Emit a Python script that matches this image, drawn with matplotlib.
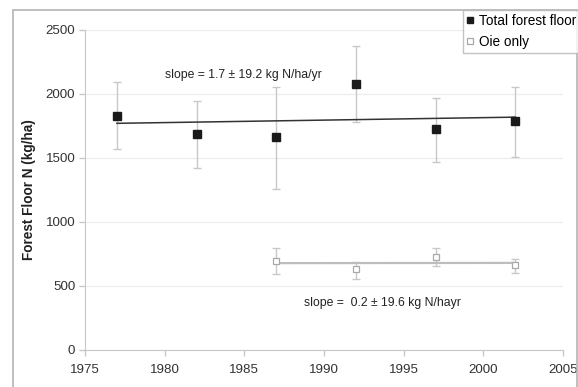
import numpy as np
import matplotlib
matplotlib.use("Agg")
import matplotlib.pyplot as plt
from matplotlib.patches import Rectangle

plt.rcParams['font.family'] = ['Liberation Sans', 'DejaVu Sans']

# data
years_total = [1977, 1982, 1987, 1992, 1997, 2002]
total_n = [1830, 1685, 1661, 2078, 1727, 1789]
total_hi = [2096, 1945, 2052, 2377, 1971, 2052]
total_lo = [1570, 1420, 1258, 1779, 1466, 1510]

years_oie = [1987, 1992, 1997, 2002]
oie_n = [695, 630, 729, 664]
oie_hi = [794, 688, 794, 711]
oie_lo = [594, 555, 656, 604]

x_ticks = [1975, 1980, 1985, 1990, 1995, 2000, 2005]
y_ticks = [0, 500, 1000, 1500, 2000, 2500]

grey = '#c8c8c8'

fig = plt.figure(figsize=(5.78, 3.87), dpi=100)
# outer frame like the spreadsheet chart area
fig.patches.append(Rectangle((13 / 578, -0.01), 564 / 578, 1 - 10 / 387 + 0.01,
                             transform=fig.transFigure, fill=False,
                             edgecolor='#b4b4b4', lw=1.2))

ax = fig.add_axes([85 / 578, 37 / 387, 478 / 578, 320 / 387])

# error bars
yt = np.array(total_n)
ax.errorbar(years_total, total_n,
            yerr=[yt - np.array(total_lo), np.array(total_hi) - yt],
            fmt='none', ecolor=grey, elinewidth=1, capsize=3, capthick=1, zorder=2)
yo = np.array(oie_n)
ax.errorbar(years_oie, oie_n,
            yerr=[yo - np.array(oie_lo), np.array(oie_hi) - yo],
            fmt='none', ecolor=grey, elinewidth=1, capsize=3, capthick=1, zorder=2)

# trend lines
p1 = np.polyfit(years_total, total_n, 1)
xs1 = np.array([years_total[0], years_total[-1]])
ax.plot(xs1, np.polyval(p1, xs1), color='#333333', lw=1.1, zorder=3)
p2 = np.polyfit(years_oie, oie_n, 1)
xs2 = np.array([years_oie[0], years_oie[-1]])
ax.plot(xs2, np.polyval(p2, xs2), color='#bdbdbd', lw=1.6, zorder=3)

ax.plot(years_total, total_n, 's', color='#1a1a1a', ms=5.2, zorder=4,
        label='Total forest floor')
ax.plot(years_oie, oie_n, 's', mfc='white', mec='#a8a8a8', mew=0.9, ms=4.6, zorder=4,
        label='Oie only')

ax.text(1980.0, 2148, 'slope = 1.7 \u00b1 19.2 kg N/ha/yr', fontsize=8.8,
        color='#222222', va='center')
ax.text(1988.75, 367, 'slope =  0.2 \u00b1 19.6 kg N/hayr', fontsize=8.8,
        color='#222222', va='center')

ax.set_xlim(1975, 2005)
ax.set_ylim(0, 2500)
ax.set_xticks(x_ticks)
ax.set_yticks(y_ticks)
ax.tick_params(labelsize=9.6, colors='#c8c8c8', labelcolor='#333333', length=4, width=1)
ax.tick_params(axis='x', pad=6)
ax.tick_params(axis='y', pad=3)
ax.grid(axis='y', color='#eeeeee', lw=0.9)
ax.set_axisbelow(True)
for s in ['top', 'right']:
    ax.spines[s].set_visible(False)
for s in ['left', 'bottom']:
    ax.spines[s].set_color('#c8c8c8')
ax.set_ylabel('Forest Floor N (kg/ha)', fontsize=9.8, fontweight='bold', color='#222222')
ax.yaxis.set_label_coords(-49 / 478, 0.5)

leg = fig.legend(loc='upper left', bbox_to_anchor=(463 / 578, 1 - 10 / 387),
                 fontsize=9.8, frameon=True, fancybox=False, borderpad=0.3,
                 handlelength=0.5, handletextpad=0.35, labelspacing=0.5,
                 borderaxespad=0, markerscale=0.85)
leg.get_frame().set_edgecolor('#b4b4b4')
leg.get_frame().set_linewidth(1)

fig.savefig('out.png', dpi=100)
